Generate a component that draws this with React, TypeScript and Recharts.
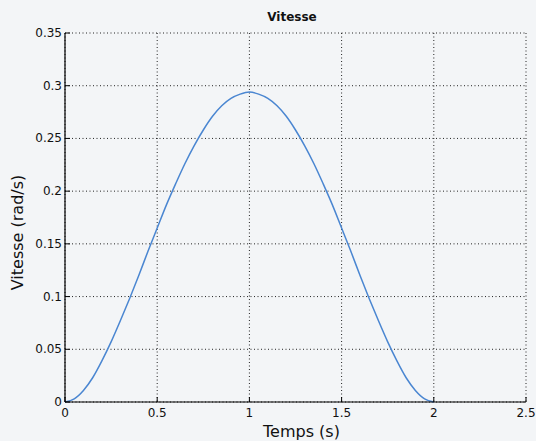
import React from "react";
import { LineChart, Line, XAxis, YAxis, CartesianGrid } from "recharts";

// Angular velocity profile of the joint over time (sampled every 0.05 s)
const temps = [
  0, 0.05, 0.1, 0.15, 0.2, 0.25, 0.3, 0.35, 0.4, 0.45, 0.5, 0.55, 0.6, 0.65, 0.7, 0.75, 0.8, 0.85, 0.9, 0.95,
  1.0, 1.05, 1.1, 1.15, 1.2, 1.25, 1.3, 1.35, 1.4, 1.45, 1.5, 1.55, 1.6, 1.65, 1.7, 1.75, 1.8, 1.85, 1.9, 1.95, 2.0,
];
const vitesse = [
  0, 0.003, 0.011, 0.023, 0.039, 0.057, 0.077, 0.098, 0.12, 0.143, 0.165, 0.187, 0.207, 0.226, 0.243, 0.258, 0.271,
  0.281, 0.288, 0.292, 0.294, 0.292, 0.288, 0.281, 0.271, 0.258, 0.243, 0.226, 0.207, 0.187, 0.165, 0.143, 0.12,
  0.098, 0.077, 0.057, 0.039, 0.023, 0.011, 0.003, 0,
];

const xTicks = [0, 0.5, 1, 1.5, 2, 2.5];
const yTicks = [0, 0.05, 0.1, 0.15, 0.2, 0.25, 0.3, 0.35];

const data = temps.map((t, i) => ({ t, v: vitesse[i] }));

const FONT = "'DejaVu Sans', 'Liberation Sans', Arial, sans-serif";
const TICK_LEN = 5;

const BottomTick = (props: any) => {
  const { x, y, payload } = props;
  return (
    <g>
      <line x1={x} x2={x} y1={y} y2={y - TICK_LEN} stroke="#000" />
      <text x={x} y={y + 15} textAnchor="middle" fontSize={12} fontFamily={FONT} fill="#111">
        {payload.value}
      </text>
    </g>
  );
};

const TopTick = (props: any) => {
  const { x, y } = props;
  return <line x1={x} x2={x} y1={y} y2={y + TICK_LEN} stroke="#000" />;
};

const LeftTick = (props: any) => {
  const { x, y, payload } = props;
  return (
    <g>
      <line x1={x} x2={x + TICK_LEN} y1={y} y2={y} stroke="#000" />
      <text x={x - 3} y={y + 4} textAnchor="end" fontSize={12} fontFamily={FONT} fill="#111">
        {payload.value}
      </text>
    </g>
  );
};

const RightTick = (props: any) => {
  const { x, y } = props;
  return <line x1={x} x2={x - TICK_LEN} y1={y} y2={y} stroke="#000" />;
};

const XLabel = (props: any) => {
  const { viewBox } = props;
  const cx = viewBox.x + viewBox.width / 2 + 6;
  return (
    <text x={cx} y={viewBox.y + viewBox.height - 4} textAnchor="middle" fontSize={16} fontFamily={FONT} fill="#111">
      Temps (s)
    </text>
  );
};

const YLabel = (props: any) => {
  const { viewBox } = props;
  const cy = viewBox.y + viewBox.height / 2 + 15;
  return (
    <text
      transform={`translate(23, ${cy}) rotate(-90)`}
      textAnchor="middle"
      fontSize={16}
      fontFamily={FONT}
      fill="#111"
    >
      Vitesse (rad/s)
    </text>
  );
};

export default function App() {
  return (
    <div style={{ position: "absolute", left: 0, top: 0, width: 536, height: 441, background: "#f3f5f7" }}>
      <div
        style={{
          position: "absolute",
          left: 65,
          width: 454,
          top: 10,
          textAlign: "center",
          fontFamily: FONT,
          fontWeight: "bold",
          fontSize: 12,
          lineHeight: "14px",
          color: "#111",
        }}
      >
        Vitesse
      </div>
      <LineChart width={536} height={441} data={data} margin={{ top: 33, right: 10, left: 0, bottom: 0 }}>
        <CartesianGrid stroke="#222" strokeDasharray="1 2.5" strokeWidth={1} />
        <XAxis
          dataKey="t"
          type="number"
          domain={[0, 2.5]}
          ticks={xTicks}
          height={39}
          tickSize={0}
          tickMargin={0}
          tickLine={false}
          axisLine={{ stroke: "#000", strokeWidth: 1.2 }}
          tick={<BottomTick />}
          interval={0}
          label={<XLabel />}
        />
        <XAxis
          xAxisId="top"
          dataKey="t"
          type="number"
          orientation="top"
          domain={[0, 2.5]}
          ticks={xTicks}
          height={0}
          tickSize={0}
          tickMargin={0}
          tickLine={false}
          axisLine={{ stroke: "#000" }}
          tick={<TopTick />}
          interval={0}
        />
        <YAxis
          type="number"
          domain={[0, 0.35]}
          ticks={yTicks}
          width={65}
          tickSize={0}
          tickMargin={0}
          tickLine={false}
          axisLine={{ stroke: "#000", strokeWidth: 1.2 }}
          tick={<LeftTick />}
          interval={0}
          label={<YLabel />}
        />
        <YAxis
          yAxisId="right"
          orientation="right"
          type="number"
          domain={[0, 0.35]}
          ticks={yTicks}
          width={0}
          tickSize={0}
          tickMargin={0}
          tickLine={false}
          axisLine={{ stroke: "#000" }}
          tick={<RightTick />}
          interval={0}
        />
        <Line
          type="monotone"
          dataKey="v"
          stroke="#4a86d1"
          strokeWidth={1.5}
          dot={false}
          isAnimationActive={false}
        />
      </LineChart>
    </div>
  );
}
